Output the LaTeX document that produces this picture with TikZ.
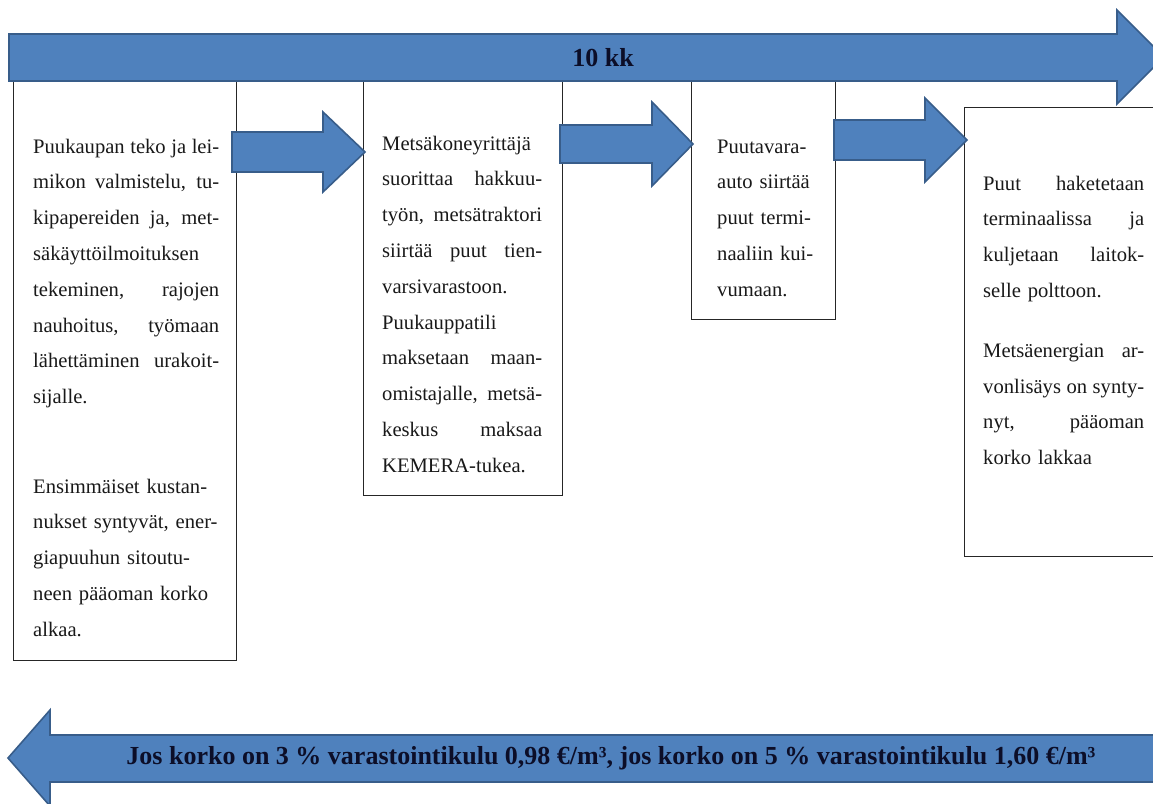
\documentclass[tikz,border=0pt]{standalone}
\usepackage{fontspec}
\setmainfont{Liberation Serif}
\definecolor{arrowblue}{RGB}{79,129,189}
\definecolor{arrowedge}{RGB}{56,93,138}
\definecolor{labelink}{RGB}{12,14,40}
\newcommand{\jline}[2]{\makebox[#1][s]{\spaceskip=0pt\xspaceskip=0pt\relax #2}}
\begin{document}
\begin{tikzpicture}[x=1pt,y=-1pt,
  blockarrow/.style={fill=arrowblue,draw=arrowedge,line width=1.6pt,line join=miter},
  stepbox/.style={draw=black!85,line width=1.1pt,fill=white,inner sep=0pt,anchor=north west},
  boxtext/.style={anchor=base west,inner sep=0pt,align=left,text=black!90,font=\fontsize{20.6}{35.8}\selectfont},
  arrowlabel/.style={font=\bfseries\fontsize{26}{30}\selectfont,text=labelink,inner sep=0pt}]
\useasboundingbox (0,0) rectangle (1153,803);

% step boxes
\node[stepbox,minimum width=223pt,minimum height=579pt] (b1) at (13,81) {};
\node[stepbox,minimum width=199pt,minimum height=414pt] (b2) at (363,81) {};
\node[stepbox,minimum width=144pt,minimum height=238pt] (b3) at (691,81) {};
\node[stepbox,minimum width=200pt,minimum height=449pt] (b4) at (964,107) {};

% top timeline arrow
\draw[blockarrow] (9,34) -- (1117,34) -- (1117,10) -- (1164,57) -- (1117,104) -- (1117,81) -- (9,81) -- cycle;
\node[arrowlabel] (topl) at (603,58) {10 kk};

% small step arrows
\draw[blockarrow] (232,132) -- (323,132) -- (323,112) -- (365,152) -- (323,192) -- (323,172) -- (232,172) -- cycle;
\draw[blockarrow] (560,125) -- (652,125) -- (652,102) -- (693,144) -- (652,186) -- (652,163) -- (560,163) -- cycle;
\draw[blockarrow] (834,120) -- (925,120) -- (925,98) -- (967,140) -- (925,182) -- (925,160) -- (834,160) -- cycle;

% bottom arrow
\draw[blockarrow] (1164,735) -- (50,735) -- (50,710) -- (8,758) -- (50,806) -- (50,782) -- (1164,782) -- cycle;
\node[arrowlabel] (botl) at (611,758) {Jos korko on 3 \% varastointikulu 0,98 €/m³, jos korko on 5 \% varastointikulu 1,60 €/m³};

% box texts
\node[boxtext,text width=186pt] (t1) at (33,153) {%
\jline{186pt}{Puukaupan teko ja lei-}\\
\jline{186pt}{mikon valmistelu, tu-}\\
\jline{186pt}{kipapereiden ja, met-}\\
säkäyttöilmoituksen\\
\jline{186pt}{tekeminen, rajojen}\\
\jline{186pt}{nauhoitus, työmaan}\\
\jline{186pt}{lähettäminen urakoit-}\\
sijalle.\\[53.7pt]
Ensimmäiset kustan-\\
nukset syntyvät, ener-\\
giapuuhun sitoutu-\\
neen pääoman korko\\
alkaa.};

\node[boxtext,text width=160pt] (t2) at (382,150) {%
Metsäkoneyrittäjä\\
\jline{160pt}{suorittaa hakkuu-}\\
\jline{160pt}{työn, metsätraktori}\\
\jline{160pt}{siirtää puut tien-}\\
varsivarastoon.\\
Puukauppatili\\
\jline{160pt}{maksetaan maan-}\\
\jline{160pt}{omistajalle, metsä-}\\
\jline{160pt}{keskus maksaa}\\
KEMERA-tukea.};

\node[boxtext,text width=110pt] (t3) at (717,153) {%
Puutavara-\\
auto siirtää\\
puut termi-\\
naaliin kui-\\
vumaan.};

\node[boxtext,text width=161pt] (t4) at (983,190) {%
\jline{161pt}{Puut haketetaan}\\
\jline{161pt}{terminaalissa ja}\\
\jline{161pt}{kuljetaan laitok-}\\
selle polttoon.\\[24pt]
\jline{161pt}{Metsäenergian ar-}\\
\jline{161pt}{vonlisäys on synty-}\\
\jline{161pt}{nyt, pääoman}\\
korko lakkaa};
\end{tikzpicture}
\end{document}
